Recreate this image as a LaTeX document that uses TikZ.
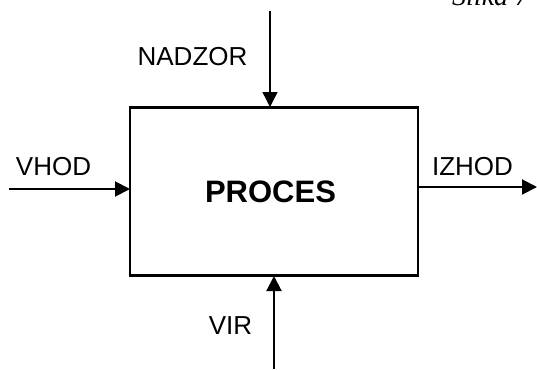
\documentclass[tikz,border=0pt]{standalone}
\usepackage{fontspec}
\setmainfont{Liberation Sans}
\newfontfamily\slikafont{Liberation Serif}
\usetikzlibrary{arrows.meta}
\begin{document}
\begin{tikzpicture}[x=1pt,y=-1pt,
  lbl/.style={font=\fontsize{26}{30}\selectfont, inner sep=0pt, anchor=base},
  flow/.style={line width=2pt, -{Triangle[length=15pt,width=15pt]}},
  boxstyle/.style={draw, line width=2.2pt, minimum width=288pt, minimum height=168pt, inner sep=0pt}]
\useasboundingbox (0,0) rectangle (537,369);
\node[boxstyle] (box) at (274,191.5) {};
\node[font=\fontsize{31}{36}\selectfont\bfseries, inner sep=0pt, anchor=base] (proc) at (270.5,202) {PROCES};
\node[lbl] (vhod) at (53.5,175) {VHOD};
\node[lbl] (izhod) at (472.5,175) {IZHOD};
\node[lbl] (nadzor) at (192.5,65) {NADZOR};
\node[lbl] (vir) at (230.5,334) {VIR};
\node[font=\slikafont\itshape\fontsize{28}{32}\selectfont, inner sep=0pt, anchor=base west] (slika) at (452,6) {Slika 7};
\coordinate (inS) at (9,189);
\coordinate (inE) at (130,189);
\coordinate (outS) at (418,187);
\coordinate (outE) at (537,187);
\coordinate (topS) at (270,11);
\coordinate (topE) at (270,107);
\coordinate (botS) at (274,369);
\coordinate (botE) at (274,276);
\draw[flow] (inS) -- (inE);
\draw[flow] (outS) -- (outE);
\draw[flow, line width=1.4pt] (topS) -- (topE);
\draw[flow] (botS) -- (botE);
\end{tikzpicture}
\end{document}
